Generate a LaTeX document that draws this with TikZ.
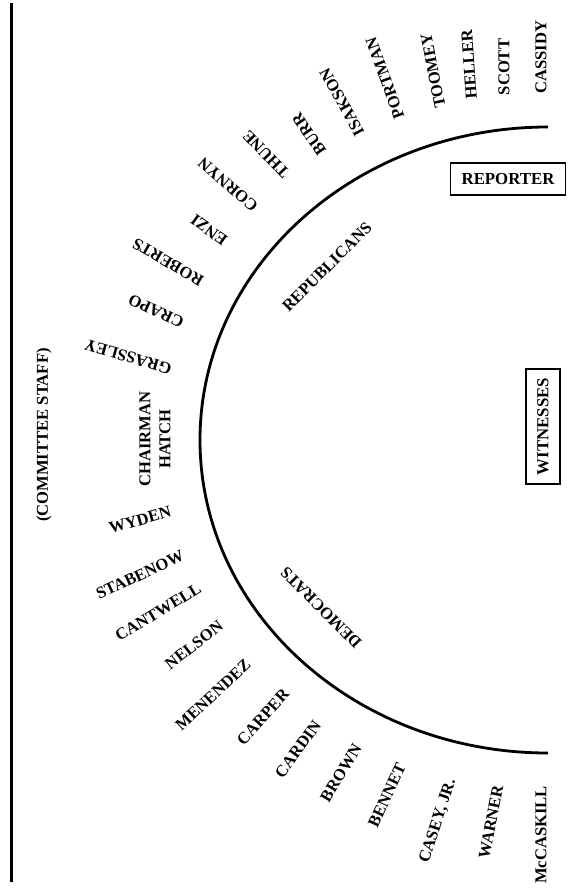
\documentclass[tikz,border=0pt]{standalone}
\usepackage{fontspec}
\setmainfont{Liberation Serif}
\begin{document}
\begin{tikzpicture}[x=1pt,y=-1pt,
  lbl/.style={font=\bfseries\fontsize{16.6}{20}\selectfont, inner sep=0pt},
  boxlbl/.style={draw, line width=1.7pt, font=\bfseries\fontsize{16.8}{20}\selectfont, inner sep=0pt}]
\useasboundingbox (0,0) rectangle (568,888);
% wall line and table arc
\coordinate (wallTop) at (11,3);
\coordinate (wallBot) at (11,882);
\draw[line width=3pt] (wallTop) -- (wallBot);
\coordinate (arcBot) at (548,753);
\draw[line width=2.8pt] (arcBot) arc[start angle=-90,end angle=-270,x radius=348pt,y radius=313pt];
% staff, chairman
\node[lbl, rotate=90] (staff) at (44,435) {(COMMITTEE STAFF)};
\node[lbl, rotate=90, align=center] (hatch) at (155,439) {CHAIRMAN\\HATCH};
% Republicans
\node[lbl, rotate=90]  (cassidy)  at (541,57)  {CASSIDY};
\node[lbl, rotate=90]  (scott)    at (504,67)  {SCOTT};
\node[lbl, rotate=94]  (heller)   at (469,64)  {HELLER};
\node[lbl, rotate=101] (toomey)   at (433,71)  {TOOMEY};
\node[lbl, rotate=110] (portman)  at (385,78)  {PORTMAN};
\node[lbl, rotate=119] (isakson)  at (342,102) {ISAKSON};
\node[lbl, rotate=125] (burr)     at (309,134) {BURR};
\node[lbl, rotate=134] (thune)    at (266,154) {THUNE};
\node[lbl, rotate=139] (cornyn)   at (228,185) {CORNYN};
\node[lbl, rotate=144] (enzi)     at (209,230) {ENZI};
\node[lbl, rotate=150] (roberts)  at (168,262) {ROBERTS};
\node[lbl, rotate=155] (crapo)    at (156,311) {CRAPO};
\node[lbl, rotate=164] (grassley) at (128,357) {GRASSLEY};
% Democrats
\node[lbl, rotate=16] (wyden)     at (140,520) {WYDEN};
\node[lbl, rotate=25] (stabenow)  at (140,575) {STABENOW};
\node[lbl, rotate=31] (cantwell)  at (158,612) {CANTWELL};
\node[lbl, rotate=38] (nelson)    at (194,645) {NELSON};
\node[lbl, rotate=43] (menendez)  at (213,695) {MENENDEZ};
\node[lbl, rotate=48] (carper)    at (263,717) {CARPER};
\node[lbl, rotate=54] (cardin)    at (298,749) {CARDIN};
\node[lbl, rotate=59] (brown)     at (341,773) {BROWN};
\node[lbl, rotate=65] (bennet)    at (387,795) {BENNET};
\node[lbl, rotate=72] (casey)     at (438,821) {CASEY, JR.};
\node[lbl, rotate=79] (warner)    at (491,822) {WARNER};
\node[lbl, rotate=90] (mccaskill) at (541,835) {McCASKILL};
% party labels
\node[lbl, rotate=45]  (repub) at (327,267) {REPUBLICANS};
\node[lbl, rotate=135] (dems)  at (321,608) {DEMOCRATS};
% boxes
\node[boxlbl, minimum width=115pt, minimum height=32pt] (reporter) at (508,179) {REPORTER};
\node[boxlbl, rotate=90, minimum width=115pt, minimum height=34pt] (witnesses) at (543,426.5) {WITNESSES};
\end{tikzpicture}
\end{document}
